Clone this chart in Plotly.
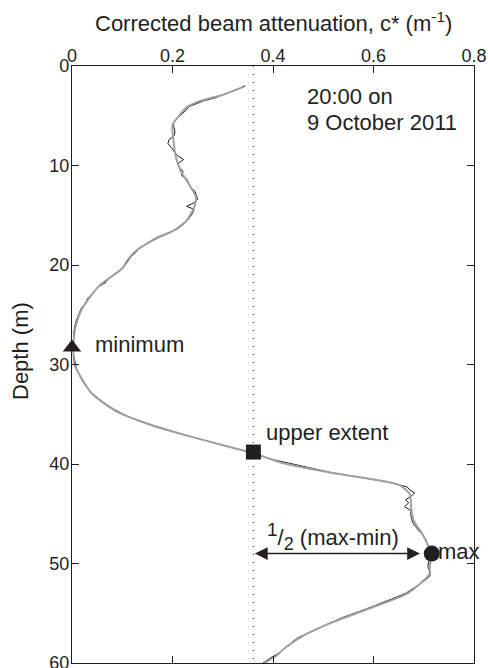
import plotly.graph_objects as go

# ---------------- data ----------------
depth_raw = [2.0, 2.3, 2.6, 2.9, 3.2, 3.5, 3.8, 4.1, 4.4, 4.7, 5.0, 5.4, 5.8, 6.2, 6.6, 7.0, 7.4, 7.8,
             8.2, 8.6, 9.0, 9.4, 9.8, 10.2, 10.6, 11.0, 11.4, 11.8, 12.2, 12.6, 13.0, 13.4, 13.8, 14.1,
             14.4, 14.8, 15.3, 15.8, 16.3, 16.8, 17.3, 17.8, 18.3, 18.7, 19.2, 19.7, 20.2, 20.8, 21.4,
             21.8, 22.2, 22.8, 23.4, 23.8, 24.3, 25.0, 25.8, 26.6, 27.4, 28.2, 29.0, 29.8, 30.4, 31.0,
             31.6, 32.2, 32.8, 33.4, 34.0, 34.6, 35.2, 35.8, 36.4, 37.0, 37.5, 38.0, 38.5, 38.9, 39.5,
             40.2, 40.9, 41.4, 41.8, 42.1, 42.3, 42.6, 42.9, 43.2, 43.6, 43.9, 44.3, 44.7, 45.1, 45.5,
             45.9, 46.3, 46.7, 47.1, 47.6, 48.1, 48.6, 49.0, 49.4, 49.8, 50.3, 50.8, 51.2, 51.6, 52.0,
             52.5, 53.0, 53.6, 54.2, 54.8, 55.4, 56.0, 56.6, 57.0, 57.4, 57.8, 58.2, 58.6, 59.0, 59.4,
             59.8, 60.0]
c_raw = [0.345, 0.330, 0.315, 0.300, 0.285, 0.262, 0.245, 0.232, 0.228, 0.222, 0.216, 0.206, 0.201,
         0.203, 0.205, 0.203, 0.193, 0.191, 0.198, 0.203, 0.210, 0.222, 0.211, 0.214, 0.221, 0.218,
         0.229, 0.232, 0.236, 0.245, 0.248, 0.250, 0.241, 0.228, 0.243, 0.240, 0.233, 0.224, 0.212,
         0.193, 0.170, 0.150, 0.133, 0.128, 0.117, 0.110, 0.103, 0.088, 0.072, 0.066, 0.052, 0.042,
         0.030, 0.029, 0.019, 0.013, 0.007, 0.004, 0.003, 0.002, 0.003, 0.006, 0.009, 0.014, 0.020,
         0.028, 0.038, 0.052, 0.068, 0.087, 0.110, 0.140, 0.175, 0.218, 0.255, 0.292, 0.330, 0.360,
         0.395, 0.455, 0.519, 0.580, 0.628, 0.650, 0.667, 0.672, 0.682, 0.676, 0.664, 0.670, 0.662,
         0.675, 0.674, 0.676, 0.678, 0.684, 0.690, 0.698, 0.704, 0.708, 0.712, 0.716, 0.714, 0.710,
         0.708, 0.712, 0.713, 0.705, 0.694, 0.680, 0.664, 0.635, 0.605, 0.573, 0.540, 0.512, 0.488,
         0.468, 0.452, 0.440, 0.433, 0.421, 0.412, 0.398, 0.386, 0.380]

depth_smooth = [2.1, 2.8, 3.6, 4.2, 5.0, 5.9, 7.5, 9.2, 10.6, 11.9, 13.2, 14.2, 15.6, 16.6, 17.3,
                18.6, 19.6, 20.3, 22.1, 24.3, 26.0, 28.0, 30.0, 31.3, 33.0, 34.7, 36.0, 37.2, 38.2,
                38.9, 39.9, 40.9, 41.7, 42.1, 43.0, 44.4, 45.7, 47.1, 49.0, 50.4, 51.1, 52.1, 53.1,
                54.4, 55.9, 57.1, 58.4, 59.3, 60.0]
c_smooth = [0.341, 0.306, 0.250, 0.227, 0.213, 0.200, 0.202, 0.207, 0.217, 0.233, 0.247, 0.243,
            0.227, 0.200, 0.167, 0.127, 0.109, 0.101, 0.054, 0.021, 0.008, 0.003, 0.005, 0.018,
            0.041, 0.088, 0.154, 0.233, 0.306, 0.360, 0.419, 0.519, 0.618, 0.651, 0.672, 0.675,
            0.680, 0.698, 0.714, 0.712, 0.711, 0.691, 0.664, 0.598, 0.519, 0.466, 0.426, 0.406,
            0.383]

min_point = (0.0, 28.3)
upper_point = (0.361, 38.8)
max_point = (0.716, 49.0)
half_line_x = 0.361

x_ticks = [0, 0.2, 0.4, 0.6, 0.8]
x_ticktext = ["0", "0.2", "0.4", "0.6", "0.8"]
y_ticks = [0, 10, 20, 30, 40, 50, 60]
y_ticktext = ["0", "10", "20", "30", "40", "50", "60"]

# ---------------- figure ----------------
W, H = 488, 668
ML, MR, MT, MB = 72, 14, 66, 5
PW, PH = W - ML - MR, H - MT - MB
FONT = "Liberation Sans, Arial, sans-serif"
INK = "#231f20"

def px_to_paper_x(px):
    return (px - ML) / PW

def px_to_paper_y(py):
    return 1 - (py - MT) / PH

fig = go.Figure()
fig.add_trace(go.Scatter(x=c_raw, y=depth_raw, mode="lines",
                         line=dict(color="#1a1a1a", width=1), hoverinfo="skip"))
fig.add_trace(go.Scatter(x=c_smooth, y=depth_smooth, mode="lines",
                         line=dict(color="#a0a0a0", width=2, shape="spline", smoothing=0.6),
                         hoverinfo="skip"))
fig.add_trace(go.Scatter(x=[min_point[0]], y=[min_point[1]], mode="markers", cliponaxis=False,
                         marker=dict(symbol="triangle-up", size=16, color=INK)))
fig.add_trace(go.Scatter(x=[upper_point[0]], y=[upper_point[1]], mode="markers", cliponaxis=False,
                         marker=dict(symbol="square", size=15, color=INK)))
fig.add_trace(go.Scatter(x=[max_point[0]], y=[max_point[1]], mode="markers", cliponaxis=False,
                         marker=dict(symbol="circle", size=16, color=INK)))

fig.add_shape(type="line", xref="x", yref="y", x0=half_line_x, x1=half_line_x, y0=0, y1=60,
              line=dict(color=INK, width=1, dash="1px,7px"), layer="below")

ann_font = dict(family=FONT, size=22, color=INK)
annotations = [
    dict(text="Corrected beam attenuation, c* (m<sup>-1</sup>)", xref="paper", yref="paper",
         x=px_to_paper_x(273), y=px_to_paper_y(22), xanchor="center", yanchor="middle",
         showarrow=False, font=ann_font),
    dict(text="Depth (m)", xref="paper", yref="paper", x=px_to_paper_x(20), y=px_to_paper_y(351),
         xanchor="center", yanchor="middle", textangle=-90, showarrow=False, font=ann_font),
    dict(text="20:00 on", xref="x", yref="y", x=0.464, y=3.1, xanchor="left", yanchor="middle",
         showarrow=False, font=ann_font),
    dict(text="9 October 2011", xref="x", yref="y", x=0.464, y=5.7, xanchor="left",
         yanchor="middle", showarrow=False, font=ann_font),
    dict(text="minimum", xref="x", yref="y", x=0.042, y=28.0, xanchor="left", yanchor="middle",
         showarrow=False, font=ann_font),
    dict(text="upper extent", xref="x", yref="y", x=0.382, y=36.8, xanchor="left",
         yanchor="middle", showarrow=False, font=ann_font),
    dict(text="max", xref="x", yref="y", x=0.725, y=48.8, xanchor="left", yanchor="middle",
         showarrow=False, font=ann_font),
    dict(text="<sup><span style='font-size:19px'>1</span></sup>/<sub><span style='font-size:18px'>2</span></sub> (max-min)",
         xref="x", yref="y", x=0.385, y=47.3,
         xanchor="left", yanchor="middle", showarrow=False, font=ann_font),
    dict(text="", xref="x", yref="y", axref="x", ayref="y", x=0.6925, y=max_point[1],
         ax=half_line_x, ay=max_point[1], showarrow=True, arrowhead=2, arrowside="end+start",
         arrowsize=1.6, arrowwidth=1.6, arrowcolor=INK, standoff=0, startstandoff=0),
]

axis_common = dict(showline=True, linecolor=INK, linewidth=1.3, mirror="ticks", ticks="inside",
                   ticklen=7, tickwidth=1.2, tickcolor=INK, showgrid=False, zeroline=False,
                   tickfont=dict(family=FONT, size=18, color=INK), fixedrange=True,
                   ticklabeloverflow="allow", automargin=False)

fig.update_layout(
    width=W, height=H, margin=dict(l=ML, r=MR, t=MT, b=MB, pad=0, autoexpand=False),
    paper_bgcolor="white", plot_bgcolor="white", showlegend=False,
    xaxis=dict(side="top", range=[-0.00001, 0.80001], tickvals=x_ticks, ticktext=x_ticktext,
               ticklabelstandoff=-4, **axis_common),
    yaxis=dict(range=[60.001, -0.001], tickvals=y_ticks, ticktext=y_ticktext,
               ticklabelstandoff=-2, **axis_common),
    annotations=annotations,
)

fig.write_html("out.html")
